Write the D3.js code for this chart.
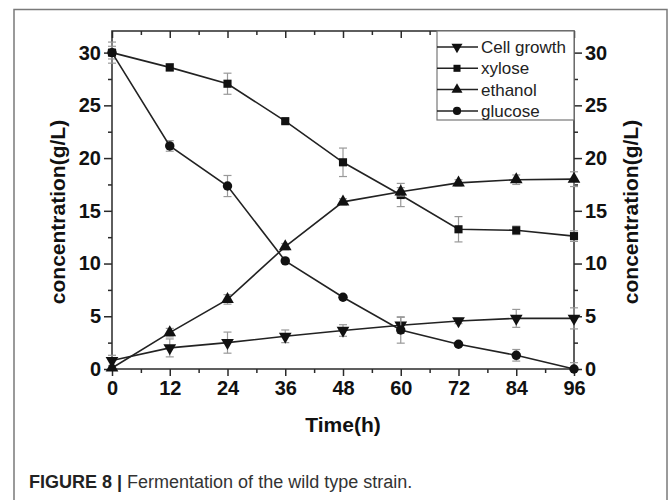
<!DOCTYPE html>
<html>
<head>
<meta charset="utf-8">
<script src="https://cdn.jsdelivr.net/npm/d3@7"></script>
<style>
  body { margin: 0; background: #fff; }
  svg { display: block; }
</style>
</head>
<body>
<script>
// data
const time = [0, 12, 24, 36, 48, 60, 72, 84, 96];
const cellGrowth    = [0.8, 2.0, 2.5, 3.1, 3.65, 4.15, 4.55, 4.8, 4.8];
const cellGrowthErr = [0.5, 0.85, 1.0, 0.6, 0.55, 0.75, 0.25, 0.85, 1.0];
const xylose        = [30, 28.6, 27.05, 23.5, 19.6, 16.5, 13.25, 13.15, 12.6];
const xyloseErr     = [1.0, 0.35, 1.0, 0.2, 1.35, 1.1, 1.2, 0.4, 0.5];
const ethanol       = [0.1, 3.45, 6.6, 11.6, 15.85, 16.8, 17.65, 17.95, 18.0];
const ethanolErr    = [0.2, 0.4, 0.45, 0.3, 0.3, 0.4, 0.3, 0.45, 0.7];
const glucose       = [30, 21.15, 17.35, 10.25, 6.8, 3.7, 2.35, 1.3, 0.0];
const glucoseErr    = [0.6, 0.5, 1.0, 0.2, 0.2, 1.25, 0.2, 0.55, 0.6];

const seriesNames = ['Cell growth', 'xylose', 'ethanol', 'glucose'];
const xTicks = [0, 12, 24, 36, 48, 60, 72, 84, 96];
const yTicks = [0, 5, 10, 15, 20, 25, 30];

const W = 669, H = 500;
const X0 = 112, X1 = 574, Y0 = 369, Y1 = 31;
const FONT = 'Arial, "Liberation Sans", Helvetica, sans-serif';
const AXIS_COLOR = '#2a2a2a';

const svg = d3.select('body').append('svg')
  .attr('width', W)
  .attr('height', H);

// outer figure frame (bottom edge runs off the picture)
svg.append('rect')
  .attr('x', 14).attr('y', 9.5)
  .attr('width', 653).attr('height', 520)
  .attr('fill', 'none')
  .attr('stroke', '#7a7a7a')
  .attr('stroke-width', 1.5);

const x = d3.scaleLinear().domain([0, 96]).range([X0, X1]);
const y = d3.scaleLinear().domain([0, 32.05]).range([Y0, Y1]);

const minorX = d3.range(6, 96, 12);
const minorY = d3.range(2.5, 32, 5);

function styleAxis(g) {
  g.selectAll('.domain').remove();
  g.selectAll('line').attr('stroke', AXIS_COLOR).attr('stroke-width', 1.5);
  g.selectAll('text')
    .attr('font-family', FONT)
    .attr('font-weight', 'bold')
    .attr('font-size', 20)
    .attr('fill', '#111');
}

// bottom axis
svg.append('g')
  .attr('transform', 'translate(0,' + Y0 + ')')
  .call(d3.axisBottom(x).tickValues(xTicks).tickSize(7).tickPadding(5).tickFormat(d3.format('d')))
  .call(styleAxis);
svg.append('g')
  .attr('transform', 'translate(0,' + Y0 + ')')
  .call(d3.axisBottom(x).tickValues(minorX).tickSize(4).tickFormat(''))
  .call(styleAxis);

// top axis, ticks point inward
svg.append('g')
  .attr('transform', 'translate(0,' + Y1 + ')')
  .call(d3.axisBottom(x).tickValues(xTicks).tickSize(7).tickFormat(''))
  .call(styleAxis);
svg.append('g')
  .attr('transform', 'translate(0,' + Y1 + ')')
  .call(d3.axisBottom(x).tickValues(minorX).tickSize(4).tickFormat(''))
  .call(styleAxis);

// left axis
svg.append('g')
  .attr('transform', 'translate(' + X0 + ',0)')
  .call(d3.axisLeft(y).tickValues(yTicks).tickSize(8).tickPadding(3))
  .call(styleAxis);
svg.append('g')
  .attr('transform', 'translate(' + X0 + ',0)')
  .call(d3.axisLeft(y).tickValues(minorY).tickSize(4).tickFormat(''))
  .call(styleAxis);

// right axis
svg.append('g')
  .attr('transform', 'translate(' + X1 + ',0)')
  .call(d3.axisRight(y).tickValues(yTicks).tickSize(8).tickPadding(3))
  .call(styleAxis);
svg.append('g')
  .attr('transform', 'translate(' + X1 + ',0)')
  .call(d3.axisRight(y).tickValues(minorY).tickSize(4).tickFormat(''))
  .call(styleAxis);

// plot frame
svg.append('rect')
  .attr('x', X0).attr('y', Y1)
  .attr('width', X1 - X0).attr('height', Y0 - Y1)
  .attr('fill', 'none')
  .attr('stroke', AXIS_COLOR)
  .attr('stroke-width', 1.5);

// axis titles
svg.append('text')
  .attr('x', 343).attr('y', 432)
  .attr('text-anchor', 'middle')
  .attr('font-family', FONT).attr('font-weight', 'bold').attr('font-size', 21)
  .attr('fill', '#111')
  .text('Time(h)');

svg.append('text')
  .attr('transform', 'translate(65,' + 212 + ') rotate(-90)')
  .attr('text-anchor', 'middle')
  .attr('font-family', FONT).attr('font-weight', 'bold').attr('font-size', 21)
  .attr('fill', '#111')
  .text('concentration(g/L)');

svg.append('text')
  .attr('transform', 'translate(638,' + 212 + ') rotate(-90)')
  .attr('text-anchor', 'middle')
  .attr('font-family', FONT).attr('font-weight', 'bold').attr('font-size', 21)
  .attr('fill', '#111')
  .text('concentration(g/L)');

// series
const series = [
  { name: seriesNames[0], values: cellGrowth, err: cellGrowthErr, symbol: d3.symbolTriangle, rotate: 180, size: 70 },
  { name: seriesNames[1], values: xylose,     err: xyloseErr,     symbol: d3.symbolSquare,   rotate: 0,   size: 66 },
  { name: seriesNames[2], values: ethanol,    err: ethanolErr,    symbol: d3.symbolTriangle, rotate: 0,   size: 70 },
  { name: seriesNames[3], values: glucose,    err: glucoseErr,    symbol: d3.symbolCircle,   rotate: 0,   size: 70 }
];

const line = d3.line()
  .x(function (d) { return x(d.t); })
  .y(function (d) { return y(d.v); });

const plot = svg.append('g');

series.forEach(function (s) {
  const pts = time.map(function (t, i) { return { t: t, v: s.values[i], e: s.err[i] }; });

  // error bars
  const eb = plot.append('g')
    .attr('stroke', '#999')
    .attr('stroke-width', 1.2);
  pts.forEach(function (p) {
    const xp = x(p.t);
    const hi = y(p.v + p.e), lo = y(Math.max(0, p.v - p.e));
    eb.append('line').attr('x1', xp).attr('x2', xp).attr('y1', hi).attr('y2', lo);
    eb.append('line').attr('x1', xp - 4).attr('x2', xp + 4).attr('y1', hi).attr('y2', hi);
    eb.append('line').attr('x1', xp - 4).attr('x2', xp + 4).attr('y1', lo).attr('y2', lo);
  });

  plot.append('path')
    .datum(pts)
    .attr('d', line)
    .attr('fill', 'none')
    .attr('stroke', '#222')
    .attr('stroke-width', 1.6);

  plot.selectAll(null)
    .data(pts)
    .join('path')
    .attr('d', d3.symbol().type(s.symbol).size(s.size))
    .attr('transform', function (d) {
      return 'translate(' + x(d.t) + ',' + y(d.v) + ') rotate(' + s.rotate + ')';
    })
    .attr('fill', '#111');
});

// legend
const LEG_X = 437, LEG_Y = 31, LEG_W = X1 - 437, LEG_H = 89;
const legend = svg.append('g');
legend.append('rect')
  .attr('x', LEG_X).attr('y', LEG_Y)
  .attr('width', LEG_W).attr('height', LEG_H)
  .attr('fill', '#fff')
  .attr('stroke', '#777')
  .attr('stroke-width', 1.2);

series.forEach(function (s, i) {
  const ly = 47 + i * 21.3;
  legend.append('line')
    .attr('x1', LEG_X).attr('x2', 478)
    .attr('y1', ly).attr('y2', ly)
    .attr('stroke', '#222').attr('stroke-width', 1.5);
  legend.append('path')
    .attr('d', d3.symbol().type(s.symbol).size(s.size * 0.75))
    .attr('transform', 'translate(457,' + ly + ') rotate(' + s.rotate + ')')
    .attr('fill', '#111');
  legend.append('text')
    .attr('x', 481).attr('y', ly + 6)
    .attr('font-family', FONT).attr('font-size', 17)
    .attr('fill', '#222')
    .text(s.name);
});

// caption
const cap = svg.append('text')
  .attr('x', 29).attr('y', 488)
  .attr('font-family', FONT).attr('font-size', 18)
  .attr('fill', '#333');
cap.append('tspan').attr('font-weight', 'bold').attr('fill', '#222').text('FIGURE 8 | ');
cap.append('tspan').text('Fermentation of the wild type strain.');
</script>
</body>
</html>
